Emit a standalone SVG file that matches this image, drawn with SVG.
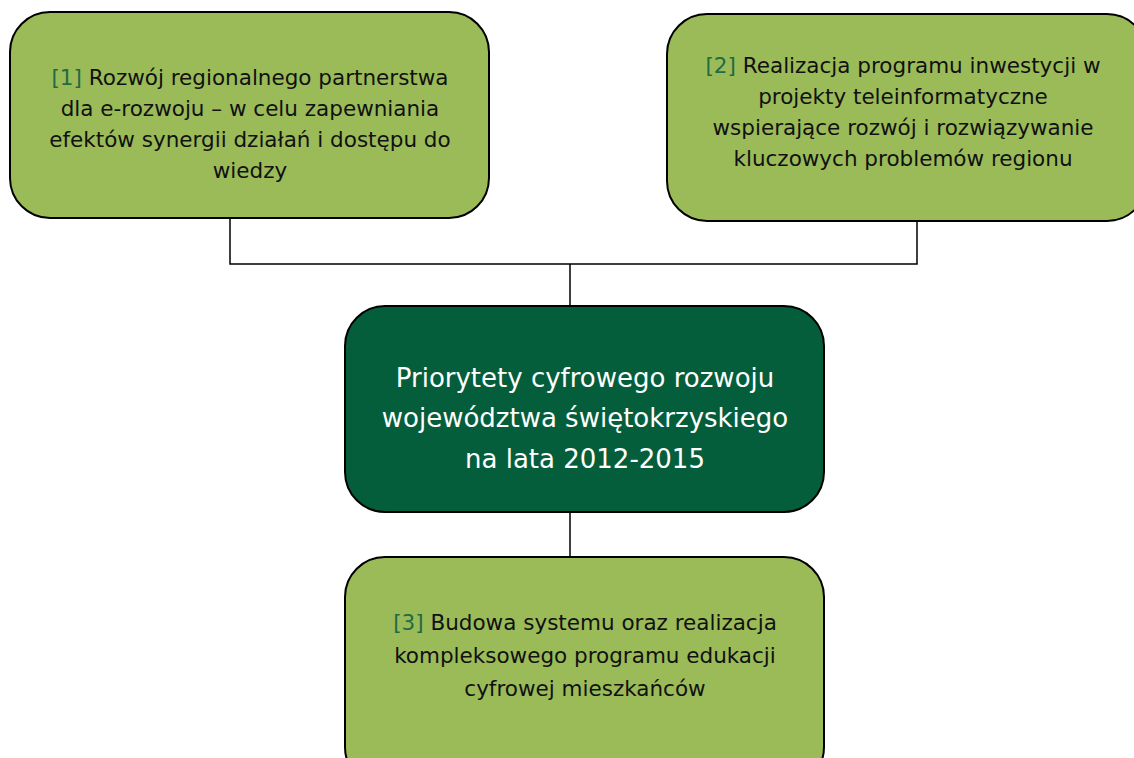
<svg xmlns="http://www.w3.org/2000/svg" width="1134" height="758" viewBox="0 0 1134 758">
<style>
.lb{fill:#9BBB59;stroke:#000;stroke-width:2}
.db{fill:#055E3B;stroke:#000;stroke-width:2}
.t{font-family:"DejaVu Sans","Liberation Sans",sans-serif;font-size:21.5px;fill:#111;text-anchor:middle}
.w{font-family:"DejaVu Sans","Liberation Sans",sans-serif;font-size:26px;fill:#fff;text-anchor:middle}
.n{fill:#1F6B42}
.c{fill:none;stroke:#000;stroke-width:1.5}
</style>
<rect width="1134" height="758" fill="#fff"/>
<g id="connectors">
<path class="c" d="M230 218V264H917V221M570 264V306M570 512V557"/>
</g>
<g id="node1">
<rect class="lb" x="10" y="12" width="479" height="206" rx="40"/>
<text class="t" x="250" y="85"><tspan class="n">[1]</tspan> Rozwój regionalnego partnerstwa</text>
<text class="t" x="250" y="116">dla e-rozwoju – w celu zapewniania</text>
<text class="t" x="250" y="147">efektów synergii działań i dostępu do</text>
<text class="t" x="250" y="178">wiedzy</text>
</g>
<g id="node2">
<rect class="lb" x="667" y="14" width="480" height="207" rx="40"/>
<text class="t" x="903" y="73"><tspan class="n">[2]</tspan> Realizacja programu inwestycji w</text>
<text class="t" x="903" y="104">projekty teleinformatyczne</text>
<text class="t" x="903" y="135">wspierające rozwój i rozwiązywanie</text>
<text class="t" x="903" y="166">kluczowych problemów regionu</text>
</g>
<g id="center">
<rect class="db" x="345" y="306" width="479" height="206" rx="40"/>
<text class="w" x="585" y="387">Priorytety cyfrowego rozwoju</text>
<text class="w" x="585" y="427">województwa świętokrzyskiego</text>
<text class="w" x="585" y="468">na lata 2012-2015</text>
</g>
<g id="node3">
<rect class="lb" x="345" y="557" width="479" height="230" rx="40"/>
<text class="t" x="585" y="630"><tspan class="n">[3]</tspan> Budowa systemu oraz realizacja</text>
<text class="t" x="585" y="663">kompleksowego programu edukacji</text>
<text class="t" x="585" y="696">cyfrowej mieszkańców</text>
</g>
</svg>
